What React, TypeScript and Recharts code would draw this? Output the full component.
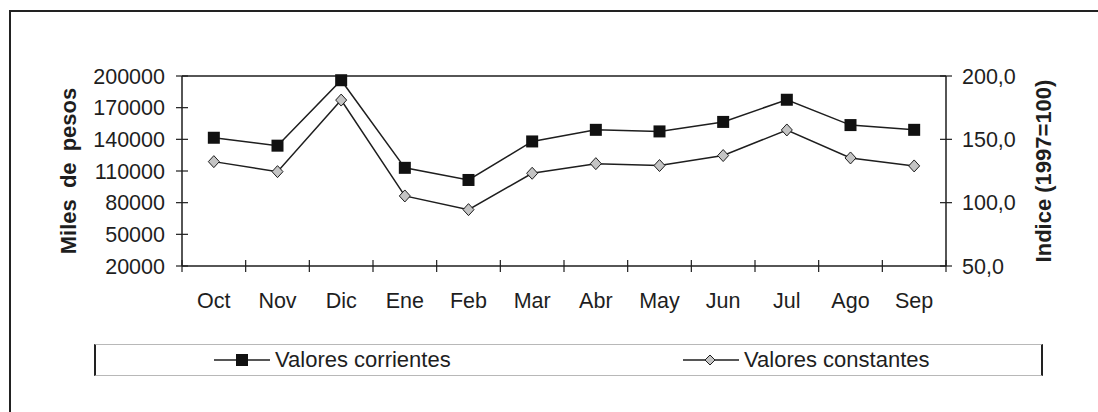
import React from 'react';
import { LineChart, Line, XAxis, YAxis, Legend, ReferenceLine } from 'recharts';

const months = ['Oct', 'Nov', 'Dic', 'Ene', 'Feb', 'Mar', 'Abr', 'May', 'Jun', 'Jul', 'Ago', 'Sep'];
const corrientes = [141500, 134000, 196000, 113000, 101500, 138000, 149000, 147500, 156500, 177500, 153500, 149000];
const constantes = [132.4, 124.5, 181.0, 105.3, 94.5, 123.2, 130.8, 129.3, 137.2, 157.4, 135.3, 129.0];
const leftTicks = [20000, 50000, 80000, 110000, 140000, 170000, 200000];
const rightTicks = [50, 100, 150, 200];
const seriesKeys = ['corrientes', 'constantes'];
const seriesNames = ['Valores corrientes', 'Valores constantes'];
const leftTitle = 'Miles de pesos';
const rightTitle = 'Indice (1997=100)';

const data = months.map((m, i) => ({
  x: i + 0.5,
  month: m,
  corrientes: corrientes[i],
  constantes: constantes[i],
}));
const xTicks = Array.from({ length: months.length * 2 + 1 }, (_, i) => i / 2);

const FONT = "'Liberation Sans', Arial, sans-serif";
const INK = '#1e1e1e';
const TICK_FS = 21.5;

const LeftTick = (props: any) => {
  const { x, y, payload } = props;
  return (
    <g>
      <line x1={x - 6} x2={x + 6} y1={y} y2={y} stroke={INK} strokeWidth={1.2} />
      <text x={x - 17} y={y} dy="0.36em" textAnchor="end" fontSize={TICK_FS} fill={INK} fontFamily={FONT}>
        {payload.value}
      </text>
    </g>
  );
};

const RightTick = (props: any) => {
  const { x, y, payload } = props;
  return (
    <g>
      <line x1={x - 6} x2={x + 6} y1={y} y2={y} stroke={INK} strokeWidth={1.2} />
      <text x={x + 16} y={y} dy="0.36em" textAnchor="start" fontSize={TICK_FS} fill={INK} fontFamily={FONT}>
        {Number(payload.value).toFixed(1).replace('.', ',')}
      </text>
    </g>
  );
};

const XTick = (props: any) => {
  const { x, y, payload } = props;
  const v = Number(payload.value);
  if (Number.isInteger(v)) {
    return <line x1={x} x2={x} y1={y - 6} y2={y + 6} stroke={INK} strokeWidth={1.2} />;
  }
  return (
    <text x={x} y={y + 34} dy="0.36em" textAnchor="middle" fontSize={TICK_FS} fill={INK} fontFamily={FONT}>
      {months[Math.floor(v)]}
    </text>
  );
};

const LeftTitle = (props: any) => {
  const vb = props.viewBox || { x: 0, y: 0, width: 0, height: 0 };
  const cx = vb.x + vb.width - 113.5;
  const cy = vb.y + vb.height / 2;
  return (
    <text x={cx} y={cy} transform={`rotate(-90, ${cx}, ${cy})`} textAnchor="middle" dy="0.36em"
      fontSize={22} fontWeight="bold" fill={INK} fontFamily={FONT} style={{ wordSpacing: '5px' }}>
      {leftTitle}
    </text>
  );
};

const RightTitle = (props: any) => {
  const vb = props.viewBox || { x: 0, y: 0, width: 0, height: 0 };
  const cx = vb.x + 97;
  const cy = vb.y + vb.height / 2;
  return (
    <text x={cx} y={cy} transform={`rotate(-90, ${cx}, ${cy})`} textAnchor="middle" dy="0.36em"
      fontSize={22} fontWeight="bold" fill={INK} fontFamily={FONT}>
      {rightTitle}
    </text>
  );
};

const SquareDot = (props: any) => {
  const { cx, cy, index } = props;
  if (cx == null || cy == null) return <g key={`s-${index}`} />;
  return <rect key={`s-${index}`} x={cx - 6} y={cy - 6} width={12} height={12} fill="#111" />;
};

const DiamondDot = (props: any) => {
  const { cx, cy, index } = props;
  if (cx == null || cy == null) return <g key={`d-${index}`} />;
  const pts = `${cx},${cy - 6} ${cx + 5.5},${cy} ${cx},${cy + 6} ${cx - 5.5},${cy}`;
  return <polygon key={`d-${index}`} points={pts} fill="#c4c4c4" stroke={INK} strokeWidth={1} />;
};

const ICON_LEFT = [118, 587];

const LegendContent = (props: any) => {
  const payload = [...(props.payload || [])].sort(
    (a: any, b: any) => seriesKeys.indexOf(a.dataKey) - seriesKeys.indexOf(b.dataKey)
  );
  return (
    <div
      style={{
        position: 'relative',
        width: 949,
        height: 32,
        boxSizing: 'border-box',
        borderTop: '1px solid #b8b8b8',
        borderBottom: '1px solid #b8b8b8',
        borderLeft: '2px solid #222',
        borderRight: '2px solid #222',
        background: '#fff',
      }}
    >
      {payload.map((entry: any, i: number) => (
        <div
          key={`leg-${i}`}
          style={{ position: 'absolute', left: ICON_LEFT[i] ?? 0, top: 0, height: 30, display: 'flex', alignItems: 'center' }}
        >
          <svg width={56} height={14} style={{ display: 'block' }}>
            <line x1={0} x2={56} y1={7} y2={7} stroke={INK} strokeWidth={1.5} />
            {entry.dataKey === 'corrientes' ? (
              <rect x={22} y={1} width={12} height={12} fill="#111" />
            ) : (
              <polygon points="27,2 32,7 27,12 22,7" fill="#c4c4c4" stroke={INK} strokeWidth={1} />
            )}
          </svg>
          <span style={{ marginLeft: 5, fontSize: 22, fontFamily: FONT, color: INK, lineHeight: '30px', whiteSpace: 'nowrap' }}>
            {entry.value}
          </span>
        </div>
      ))}
    </div>
  );
};

export default function App() {
  return (
    <div style={{ position: 'absolute', left: 0, top: 0, width: 1098, height: 412, overflow: 'hidden', background: '#fff' }}>
      <div
        style={{ position: 'absolute', left: 9, top: 10, width: 1200, height: 600, border: '2px solid #222', boxSizing: 'border-box' }}
      />
      <div style={{ position: 'absolute', left: 0, top: 0 }}>
        <LineChart width={1098} height={412} data={data} margin={{ top: 76, right: 0, left: 0, bottom: 0 }}>
          <XAxis
            dataKey="x"
            type="number"
            domain={[0, 12]}
            ticks={xTicks}
            interval={0}
            height={146}
            tickSize={0}
            tickMargin={0}
            tickLine={false}
            tick={XTick}
            axisLine={{ stroke: INK, strokeWidth: 1.5 }}
          />
          <YAxis
            yAxisId="left"
            type="number"
            width={182}
            domain={[20000, 200000]}
            ticks={leftTicks}
            interval={0}
            tickSize={0}
            tickMargin={0}
            tickLine={false}
            tick={LeftTick}
            axisLine={{ stroke: INK, strokeWidth: 1.5 }}
            label={LeftTitle}
          />
          <YAxis
            yAxisId="right"
            orientation="right"
            type="number"
            width={152}
            domain={[50, 200]}
            ticks={rightTicks}
            interval={0}
            tickSize={0}
            tickMargin={0}
            tickLine={false}
            tick={RightTick}
            axisLine={{ stroke: INK, strokeWidth: 1.5 }}
            label={RightTitle}
          />
          <ReferenceLine yAxisId="left" y={200000} stroke={INK} strokeWidth={1.5} />
          <Legend
            layout="vertical"
            align="center"
            verticalAlign="middle"
            itemSorter={null as any}
            wrapperStyle={{ left: 94, top: 344, width: 949, height: 32 }}
            content={LegendContent}
          />
          <Line
            yAxisId="left"
            dataKey="corrientes"
            name={seriesNames[0]}
            stroke={INK}
            strokeWidth={1.5}
            dot={SquareDot}
            activeDot={false}
            isAnimationActive={false}
          />
          <Line
            yAxisId="right"
            dataKey="constantes"
            name={seriesNames[1]}
            stroke={INK}
            strokeWidth={1.5}
            dot={DiamondDot}
            activeDot={false}
            isAnimationActive={false}
          />
        </LineChart>
      </div>
    </div>
  );
}
